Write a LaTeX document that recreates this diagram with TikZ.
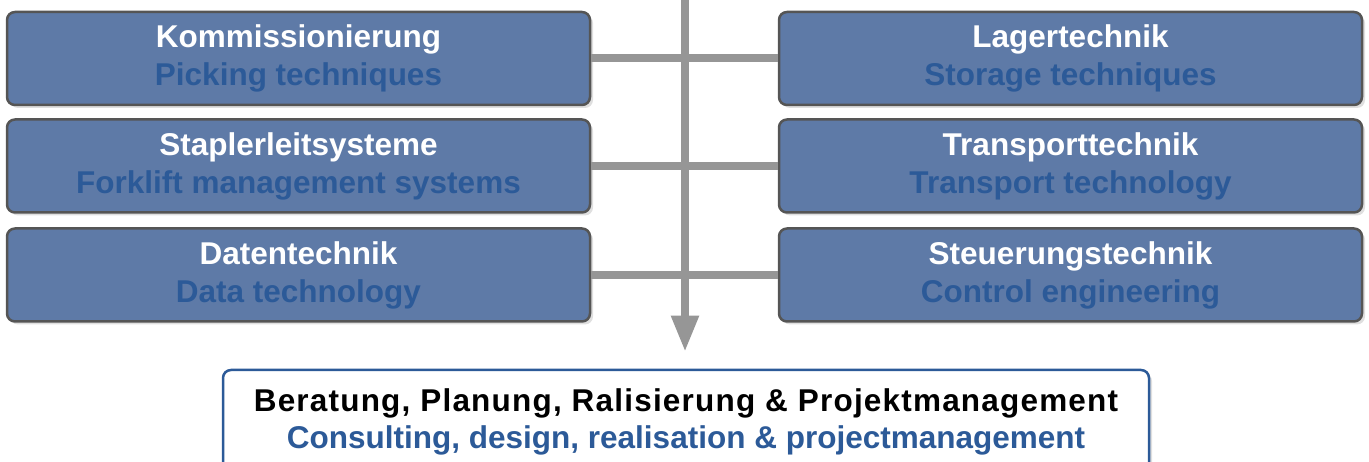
\documentclass[tikz,border=0pt]{standalone}
\usepackage{fontspec}
\setmainfont{Liberation Sans}
\newfontfamily\spacedfont[LetterSpace=3.8]{Liberation Sans}
\usetikzlibrary{arrows.meta,shadows}
\definecolor{boxfill}{RGB}{94,122,167}
\definecolor{boxline}{RGB}{85,85,85}
\definecolor{engblue}{RGB}{44,90,152}
\definecolor{conngray}{RGB}{150,150,150}
\newcommand{\eng}[1]{\textcolor{engblue}{#1}}
\tikzset{
  area/.style={draw=boxline,line width=2.5pt,fill=boxfill,rounded corners=8pt,
    minimum width=583pt,minimum height=93pt,inner sep=0pt,align=center,
    text=white,font=\bfseries\fontsize{31.5}{38}\selectfont,
    drop shadow={opacity=0.25,shadow xshift=3pt,shadow yshift=-3pt}},
  result/.style={draw=engblue,line width=2.5pt,fill=white,rounded corners=8pt,
    minimum width=926pt,minimum height=104pt,inner sep=0pt,align=center,
    font=\bfseries\fontsize{31.5}{37}\selectfont,
    drop shadow={opacity=0.25,shadow xshift=3pt,shadow yshift=-3pt}},
  conn/.style={draw=conngray,line width=8pt},
}
\begin{document}
\begin{tikzpicture}[x=1pt,y=-1pt]
  \useasboundingbox (0,0) rectangle (1369,462);
  % left column
  \node[area] (kom) at (298.5,58.5) {Kommissionierung\\\eng{Picking techniques}};
  \node[area] (stapler) at (298.5,166) {Staplerleitsysteme\\\eng{Forklift management systems}};
  \node[area] (daten) at (298.5,275) {Datentechnik\\\eng{Data technology}};
  % right column
  \node[area] (lager) at (1070.5,58.5) {Lagertechnik\\\eng{Storage techniques}};
  \node[area] (transport) at (1070.5,166) {Transporttechnik\\\eng{Transport technology}};
  \node[area] (steuerung) at (1070.5,275) {Steuerungstechnik\\\eng{Control engineering}};
  % result
  \node[result] (beratung) at (686,422) {{\spacedfont\bfseries Beratung, Planung, Ralisierung \& Projektmanagement}\\\eng{Consulting, design, realisation \& projectmanagement}};
  \coordinate (top) at (685,0);
  \draw[conn] (kom) -- (lager);
  \draw[conn] (stapler) -- (transport);
  \draw[conn] (daten) -- (steuerung);
  \draw[conn,-{Triangle[width=26pt,length=36pt]},shorten >=17pt] (top) -- (top |- beratung.north);
\end{tikzpicture}
\end{document}
